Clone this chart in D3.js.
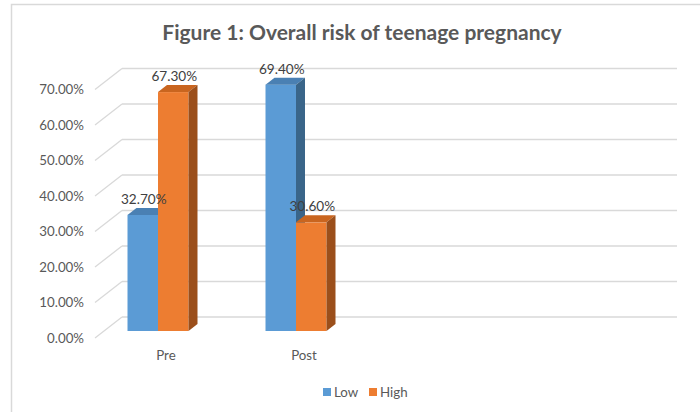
<!DOCTYPE html>
<html>
<head>
<meta charset="utf-8">
<script src="https://cdn.jsdelivr.net/npm/d3@7/dist/d3.min.js"></script>
<style>
  body { margin: 0; background: #fff; }
  text { font-family: Lato, "Open Sans", sans-serif; }
</style>
</head>
<body>
<script>
let categories = ["Pre", "Post"];
let seriesNames = ["Low", "High"];
let lowValues = [0.327, 0.694];
let highValues = [0.673, 0.306];
let tickValues = [0, 0.1, 0.2, 0.3, 0.4, 0.5, 0.6, 0.7];
let slotCount = 4; // category slots on the axis, only two filled

let w = 700;
let h = 412;

// oblique offsets for 3D look
let barDx = 9, barDy = -7;      // depth of a column
let floorDx = 27, floorDy = -21; // depth of the floor / wall

let frontColors = ["#5B9BD5", "#ED7D31"];
let topColors = ["#4A80B3", "#C9651F"];
let sideColors = ["#3A6589", "#9B4F1B"];

var svg = d3.select("body")
  .append("svg")
  .attr("width", w)
  .attr("height", h);

svg.append("rect")
  .attr("x", 11.5)
  .attr("y", 4.5)
  .attr("width", 720)
  .attr("height", 440)
  .attr("fill", "#fff")
  .attr("stroke", "#d9d9d9")
  .attr("stroke-width", 1.5);

// y scale lives on the plane of the columns' front faces
var y = d3.scaleLinear()
  .domain([0, 0.7])
  .range([331, 82.5]);

var x = d3.scaleBand()
  .domain(d3.range(slotCount))
  .range([89, 89 + slotCount * 138])
  .paddingInner(0.558)
  .paddingOuter(0.279);

var xs = d3.scaleBand()
  .domain(seriesNames)
  .range([0, x.bandwidth()]);

// back wall gridlines + diagonal floor/wall lines
var frontX = 95, backRight = 677;
var grid = svg.append("g");
tickValues.forEach(function(t) {
  var yf = y(t) + 7;
  grid.append("line")
    .attr("x1", frontX).attr("y1", yf)
    .attr("x2", frontX + floorDx).attr("y2", yf + floorDy)
    .attr("stroke", "#d9d9d9").attr("stroke-width", 1.3);
  grid.append("line")
    .attr("x1", frontX + floorDx).attr("y1", yf + floorDy)
    .attr("x2", backRight).attr("y2", yf + floorDy)
    .attr("stroke", "#d9d9d9").attr("stroke-width", 1.3);
});

svg.append("g").selectAll("text")
  .data(tickValues)
  .enter()
  .append("text")
  .attr("x", 84)
  .attr("y", function(d) { return y(d) + 7 + 4.5; })
  .attr("text-anchor", "end")
  .attr("font-size", "13.3px")
  .attr("fill", "#595959")
  .text(function(d) { return d3.format(".2%")(d); });

// columns
function drawBar(g, x0, bw, v, si) {
  var x1 = x0 + bw;
  var yt = y(v), yb = y(0);
  g.append("rect")
    .attr("x", x0).attr("y", yt)
    .attr("width", bw).attr("height", yb - yt)
    .attr("fill", frontColors[si]);
  g.append("polygon")
    .attr("points", [[x0, yt], [x1, yt], [x1 + barDx, yt + barDy], [x0 + barDx, yt + barDy]].join(" "))
    .attr("fill", topColors[si]);
  g.append("polygon")
    .attr("points", [[x1, yt], [x1 + barDx, yt + barDy], [x1 + barDx, yb + barDy], [x1, yb]].join(" "))
    .attr("fill", sideColors[si]);
}

var bars = svg.append("g");
categories.forEach(function(c, i) {
  var vals = [lowValues[i], highValues[i]];
  seriesNames.forEach(function(s, si) {
    drawBar(bars, x(i) + xs(s), xs.bandwidth(), vals[si], si);
  });
});

// data labels
var labels = svg.append("g");
categories.forEach(function(c, i) {
  var vals = [lowValues[i], highValues[i]];
  seriesNames.forEach(function(s, si) {
    labels.append("text")
      .attr("x", x(i) + xs(s) + xs.bandwidth() / 2 + 1)
      .attr("y", y(vals[si]) - 11)
      .attr("text-anchor", "middle")
      .attr("font-size", "13.6px")
      .attr("fill", "#404040")
      .text(d3.format(".2%")(vals[si]));
  });
});

// category labels
svg.append("g").selectAll("text")
  .data(categories)
  .enter()
  .append("text")
  .attr("x", function(d, i) { return x(i) + x.bandwidth() / 2 + 8; })
  .attr("y", 360)
  .attr("text-anchor", "middle")
  .attr("font-size", "13.3px")
  .attr("fill", "#595959")
  .text(function(d) { return d; });

// title
svg.append("text")
  .attr("x", 362)
  .attr("y", 40)
  .attr("text-anchor", "middle")
  .attr("font-size", "21px")
  .attr("font-weight", "bold")
  .attr("fill", "#595959")
  .text("Figure 1: Overall risk of teenage pregnancy");

// legend
var legendX = [323, 369];
var legend = svg.append("g");
seriesNames.forEach(function(s, si) {
  legend.append("rect")
    .attr("x", legendX[si]).attr("y", 388)
    .attr("width", 8).attr("height", 8)
    .attr("fill", frontColors[si]);
  legend.append("text")
    .attr("x", legendX[si] + 11)
    .attr("y", 396.5)
    .attr("font-size", "13.3px")
    .attr("fill", "#595959")
    .text(s);
});
</script>
</body>
</html>
